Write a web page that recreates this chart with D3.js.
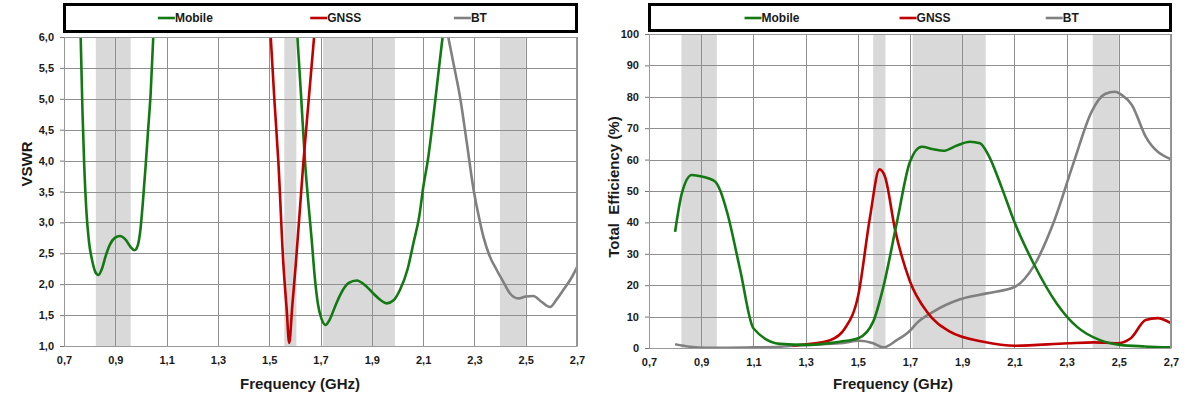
<!DOCTYPE html>
<html lang="en">
<head>
<meta charset="utf-8">
<title>VSWR and Total Efficiency</title>
<script src="https://cdn.jsdelivr.net/npm/d3@7"></script>
<style>
  body { margin: 0; background: #fff; }
  svg text { font-family: "Liberation Sans", Arial, sans-serif; font-weight: bold; fill: #1a1a1a; }
</style>
</head>
<body>
<div id="chart"></div>
<script>
// shared axis values
const freqTicks = [0.7, 0.9, 1.1, 1.3, 1.5, 1.7, 1.9, 2.1, 2.3, 2.5, 2.7];
const vswrTicks = [1.0, 1.5, 2.0, 2.5, 3.0, 3.5, 4.0, 4.5, 5.0, 5.5, 6.0];
const effTicks = [0, 10, 20, 30, 40, 50, 60, 70, 80, 90, 100];
const bands = [[0.824, 0.960], [1.559, 1.606], [1.71, 1.99], [2.40, 2.50]];
const seriesNames = ["Mobile", "GNSS", "BT"];
const seriesColors = ["#137a13", "#c00000", "#808080"];

// VSWR (left chart)
const vswrMobileF1 = [0.765, 0.772, 0.779, 0.787, 0.797, 0.810, 0.822, 0.834, 0.848, 0.862, 0.879, 0.898, 0.918, 0.940, 0.960, 0.975, 0.987, 0.997, 1.007, 1.018, 1.028, 1.038, 1.048];
const vswrMobileV1 = [6.0, 4.8, 3.9, 3.2, 2.7, 2.38, 2.2, 2.15, 2.25, 2.45, 2.64, 2.75, 2.78, 2.72, 2.6, 2.55, 2.62, 2.85, 3.3, 3.9, 4.5, 5.1, 6.0];
const vswrMobileF2 = [1.610, 1.625, 1.640, 1.653, 1.665, 1.678, 1.690, 1.703, 1.720, 1.735, 1.755, 1.776, 1.810, 1.841, 1.875, 1.906, 1.935, 1.958, 1.985, 2.010, 2.040, 2.062, 2.085, 2.101, 2.120, 2.134, 2.155, 2.176];
const vswrMobileV2 = [6.0, 5.0, 3.96, 3.3, 2.75, 2.1, 1.68, 1.45, 1.34, 1.42, 1.62, 1.82, 2.02, 2.06, 1.98, 1.85, 1.74, 1.69, 1.74, 1.91, 2.25, 2.66, 3.1, 3.58, 4.05, 4.5, 5.25, 6.0];
const vswrGnssF = [1.506, 1.520, 1.536, 1.555, 1.568, 1.578, 1.590, 1.604, 1.633, 1.655, 1.675];
const vswrGnssV = [6.0, 5.0, 3.96, 2.34, 1.6, 1.05, 1.65, 2.34, 3.96, 5.03, 6.0];
const vswrBtF = [2.198, 2.221, 2.244, 2.270, 2.296, 2.317, 2.335, 2.360, 2.387, 2.415, 2.439, 2.471, 2.500, 2.530, 2.560, 2.595, 2.620, 2.647, 2.675, 2.701];
const vswrBtV = [6.0, 5.52, 5.03, 4.3, 3.55, 3.1, 2.77, 2.45, 2.23, 2.02, 1.85, 1.77, 1.80, 1.81, 1.72, 1.63, 1.75, 1.91, 2.08, 2.28];

// Total efficiency % (right chart)
const effMobileF = [0.800, 0.826, 0.864, 0.902, 0.953, 0.972, 1.000, 1.050, 1.100, 1.202, 1.305, 1.432, 1.502, 1.559, 1.598, 1.649, 1.700, 1.745, 1.790, 1.828, 1.880, 1.930, 1.968, 2.000, 2.050, 2.102, 2.173, 2.262, 2.339, 2.428, 2.505, 2.600, 2.700];
const effMobileV = [37.0, 49.3, 55.1, 54.6, 53.0, 50.3, 43.0, 24.6, 6.3, 1.3, 1.0, 2.0, 3.1, 8.4, 19.5, 39.7, 59.3, 64.1, 63.3, 62.8, 64.5, 65.7, 65.2, 61.5, 51.4, 39.7, 27.0, 14.2, 6.8, 2.5, 1.0, 0.5, 0.2];
const effGnssF = [1.250, 1.305, 1.394, 1.451, 1.502, 1.547, 1.583, 1.604, 1.643, 1.700, 1.764, 1.853, 1.981, 2.104, 2.303, 2.405, 2.494, 2.546, 2.603, 2.648, 2.700];
const effGnssV = [0.8, 1.2, 2.5, 6.3, 16.9, 41.8, 56.9, 54.6, 37.6, 21.2, 11.6, 5.2, 2.0, 0.7, 1.5, 1.8, 1.5, 3.1, 8.9, 9.5, 7.9];
const effBtF = [0.800, 0.857, 0.921, 1.000, 1.100, 1.200, 1.305, 1.432, 1.508, 1.559, 1.598, 1.649, 1.700, 1.726, 1.790, 1.892, 1.994, 2.102, 2.173, 2.249, 2.326, 2.396, 2.447, 2.485, 2.511, 2.550, 2.603, 2.700];
const effBtV = [1.2, 0.4, 0.1, 0.1, 0.2, 0.4, 1.0, 1.5, 2.3, 1.5, 0.2, 2.5, 5.5, 7.9, 11.6, 15.5, 17.4, 19.5, 25.9, 39.7, 58.8, 75.3, 80.9, 81.6, 80.6, 77.4, 67.3, 60.1];

const zip = (f, v) => f.map((d, i) => [d, v[i]]);

const svg = d3.select("#chart")
  .append("svg")
    .attr("width", 1200)
    .attr("height", 398);

// draws one panel (bands, grid, curves, axes, legend)
function drawPanel(p) {
  const g = svg.append("g");
  const w = p.right - p.left;

  const x = d3.scaleLinear().domain([0.7, 2.7]).range([p.left, p.right]);
  const y = d3.scaleLinear().domain([p.yTicks[0], p.yTicks[p.yTicks.length - 1]]).range([p.bottom, p.top]);

  // frequency bands
  g.selectAll("rect.band")
    .data(bands)
    .join("rect")
      .attr("class", "band")
      .attr("x", d => x(d[0]))
      .attr("y", p.top)
      .attr("width", d => x(d[1]) - x(d[0]))
      .attr("height", p.bottom - p.top)
      .attr("fill", "#d9d9d9");

  // grid
  g.selectAll("line.hgrid")
    .data(p.yTicks)
    .join("line")
      .attr("x1", p.left).attr("x2", p.right)
      .attr("y1", d => Math.round(y(d)) + 0.5).attr("y2", d => Math.round(y(d)) + 0.5)
      .attr("stroke", "#8f8f8f");
  g.selectAll("line.vgrid")
    .data(freqTicks)
    .join("line")
      .attr("x1", d => Math.round(x(d)) + 0.5).attr("x2", d => Math.round(x(d)) + 0.5)
      .attr("y1", p.top).attr("y2", p.bottom)
      .attr("stroke", "#8f8f8f");

  // curves
  const clipId = "clip" + p.left;
  g.append("clipPath").attr("id", clipId)
    .append("rect")
      .attr("x", p.left).attr("y", p.top - 1)
      .attr("width", w).attr("height", p.bottom - p.top + 1);

  const line = d3.line()
    .x(d => x(d[0]))
    .y(d => y(d[1]))
    .curve(d3.curveMonotoneX);

  g.append("g")
    .attr("clip-path", `url(#${clipId})`)
    .selectAll("path")
    .data(p.series)
    .join("path")
      .attr("d", d => line(d.points))
      .attr("fill", "none")
      .attr("stroke", d => seriesColors[d.idx])
      .attr("stroke-width", 2.6)
      .attr("stroke-linejoin", "round");

  // axes
  const yAxis = g.append("g")
    .attr("transform", `translate(${p.left},0)`)
    .call(d3.axisLeft(y).tickValues(p.yTicks).tickFormat(p.yFormat).tickSize(4).tickSizeOuter(0).tickPadding(6));
  yAxis.selectAll("line").attr("stroke", "#777");
  yAxis.select(".domain").attr("stroke", "#888");
  yAxis.selectAll("text").style("font-size", "11px");

  const xAxis = g.append("g")
    .attr("transform", `translate(0,${p.bottom})`)
    .call(d3.axisBottom(x).tickValues(freqTicks).tickFormat(d => d.toFixed(1).replace(".", ",")).tickSize(0).tickPadding(10));
  xAxis.select(".domain").attr("stroke", "#888");
  xAxis.selectAll("text").style("font-size", "11px");

  // outer frame of plot area
  g.append("rect")
    .attr("x", p.left + 0.5).attr("y", p.top + 0.5)
    .attr("width", w - 1).attr("height", p.bottom - p.top)
    .attr("fill", "none")
    .attr("stroke", "#999");

  // axis titles
  g.append("text")
    .attr("x", p.xTitleX).attr("y", 389)
    .attr("text-anchor", "middle")
    .style("font-size", "15px")
    .text("Frequency (GHz)");
  g.append("text")
    .attr("transform", `translate(${p.yTitleX},${p.yTitleY}) rotate(-90)`)
    .attr("text-anchor", "middle")
    .style("font-size", "15px")
    .style("white-space", "pre")
    .attr("xml:space", "preserve")
    .text(p.yTitle);

  // legend box
  g.append("rect")
    .attr("x", p.left + 0.5).attr("y", 4.5)
    .attr("width", w - 1).attr("height", p.legendH)
    .attr("fill", "#fff")
    .attr("stroke", "#000")
    .attr("stroke-width", 3);

  const legendPos = [0.183, 0.48, 0.76];
  const items = g.selectAll("g.leg")
    .data(seriesNames)
    .join("g")
      .attr("transform", (d, i) => `translate(${p.left + legendPos[i] * w},18)`);
  items.append("line")
    .attr("x1", 0).attr("x2", 17)
    .attr("stroke", (d, i) => seriesColors[i])
    .attr("stroke-width", 2.6);
  items.append("text")
    .attr("x", 17)
    .attr("dy", "0.35em")
    .style("font-size", "12px")
    .text(d => d);
}

drawPanel({
  left: 64, right: 577, top: 37, bottom: 346,
  yTicks: vswrTicks,
  yFormat: d => d.toFixed(1).replace(".", ","),
  yTitle: "VSWR", yTitleX: 32, yTitleY: 164,
  xTitleX: 300,
  legendH: 27,
  series: [
    {idx: 0, points: zip(vswrMobileF1, vswrMobileV1)},
    {idx: 0, points: zip(vswrMobileF2, vswrMobileV2)},
    {idx: 1, points: zip(vswrGnssF, vswrGnssV)},
    {idx: 2, points: zip(vswrBtF, vswrBtV)}
  ]
});

drawPanel({
  left: 649, right: 1171, top: 34, bottom: 348,
  yTicks: effTicks,
  yFormat: d => d,
  yTitle: "Total  Efficiency (%)", yTitleX: 619, yTitleY: 187,
  xTitleX: 893,
  legendH: 26,
  series: [
    {idx: 2, points: zip(effBtF, effBtV)},
    {idx: 1, points: zip(effGnssF, effGnssV)},
    {idx: 0, points: zip(effMobileF, effMobileV)}
  ]
});
</script>
</body>
</html>
